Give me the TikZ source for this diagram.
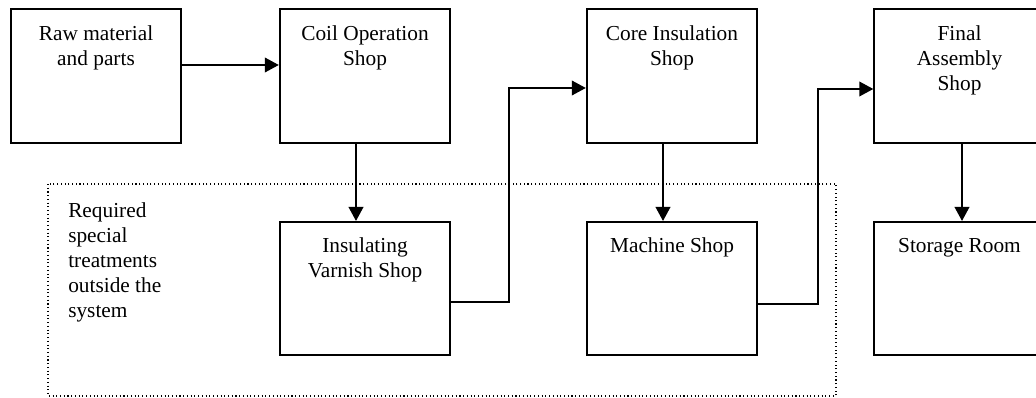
\documentclass[tikz,border=0pt]{standalone}
\usepackage{fontspec}
\setmainfont{Liberation Serif}
\usetikzlibrary{arrows.meta}
\tikzset{
  shop/.style={draw, line width=1.3pt, minimum width=128pt, minimum height=100pt, inner sep=0pt},
  shoptitle/.style={anchor=north, inner sep=0pt, yshift=-12.5pt, align=center},
  flow/.style={line width=1.3pt, -{Triangle[length=10.5pt,width=11pt]}},
  outside/.style={dotted, line width=0.8pt}
}

\begin{document}
\begin{tikzpicture}[x=0.75pt, y=-0.75pt, font=\fontsize{16}{18.8}\selectfont]
                \clip (0,0) rectangle (1036,398);

                % main line of shops
                \node[shop, label={[shoptitle]north:{Raw material\\and parts}}] (raw) at (96,76) {};
                \node[shop, label={[shoptitle]north:{Coil Operation\\Shop}}] (coil) at (365,76) {};
                \node[shop, label={[shoptitle]north:{Core Insulation\\Shop}}] (core) at (672,76) {};
                \node[shop, label={[shoptitle]north:{Final\\Assembly\\Shop}}] (final) at (959.5,76) {};

                % shops below
                \node[shop, label={[shoptitle]north:{Insulating\\Varnish Shop}}] (varnish) at (365,288.5) {};
                \node[shop, label={[shoptitle]north:{Machine Shop}}] (machine) at (672,288.5) {};
                \node[shop, label={[shoptitle]north:{Storage Room}}] (storage) at (959.5,288.5) {};

                % special treatments outside the system
                \draw[outside] (48,184) rectangle (836,396);
                \node[anchor=north west, inner sep=0pt, align=left] (note) at (68,202)
                    {Required\\special\\treatments\\outside the\\system};

                % raw to coil
                \draw[flow] (raw.east |- 0,65) -- (coil.west |- 0,65);
                % coil to varnish
                \draw[flow] (coil.south -| 356,0) -- (varnish.north -| 356,0);
                % varnish to core
                \draw[flow] (varnish.east |- 0,302) -| (509,88) -- (core.west |- 0,88);
                % core to machine
                \draw[flow] (core.south -| 663,0) -- (machine.north -| 663,0);
                % machine to final
                \draw[flow] (machine.east |- 0,304) -| (818,89) -- (final.west |- 0,89);
                % final to storage
                \draw[flow] (final.south -| 962,0) -- (storage.north -| 962,0);
\end{tikzpicture}
\end{document}
